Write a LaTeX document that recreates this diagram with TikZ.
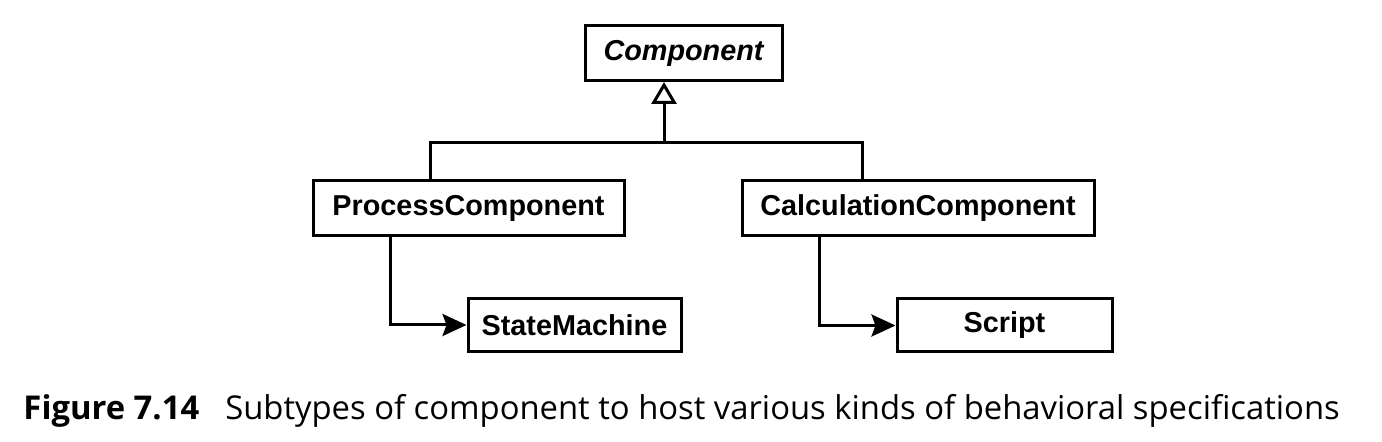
\documentclass[tikz,border=0pt]{standalone}
\usepackage{fontspec}
\setmainfont{Liberation Sans}
\newfontfamily\capfont{Open Sans}
\usetikzlibrary{positioning,arrows.meta}

\begin{document}
\begin{tikzpicture}[
  x=1pt, y=-1pt,
  line width=1.5pt,
  classbox/.style={draw, rectangle, line width=1.5pt, minimum height=27.5pt,
    inner sep=0pt, font=\fontsize{14.4}{16}\selectfont\bfseries},
  inherit/.style={-{Triangle[open,length=11pt,width=12.5pt]}},
  assoc/.style={-{Stealth[length=12pt,width=11pt,inset=2pt]}}
]
\useasboundingbox (0,0) rectangle (691,221);

\node[classbox, minimum width=98.5pt] (comp) at (341.75,26.5) {\itshape Component};
\node[classbox, minimum width=155.5pt] (proc) at (234.25,104) {ProcessComponent};
\node[classbox, minimum width=176pt] (calc) at (459,104) {CalculationComponent};
\node[classbox, minimum width=106.5pt, minimum height=26.5pt] (sm) at (287.25,162.5) {StateMachine};
\node[classbox, minimum width=107.5pt, minimum height=26.5pt] (scr) at (502.25,162.75) {Script};

% generalisation
\coordinate (bar) at (332,71.5);
\draw[inherit] (bar) -- ([xshift=-9.75pt]comp.south);
\draw ([xshift=-19.25pt]proc.north) |- (bar) -| ([xshift=-28pt]calc.north);

% behaviour
\draw[assoc] ([xshift=-39.25pt]proc.south) |- (sm.west);
\draw[assoc] ([xshift=-49.5pt]calc.south) |- (scr.west);

\node[anchor=base west, inner sep=0pt, font=\capfont\fontsize{16.4}{19}\selectfont] (cap) at (11,210)
  {\textbf{Figure 7.14}\hspace{13pt}Subtypes of component to host various kinds of behavioral specifications};

\end{tikzpicture}
\end{document}
